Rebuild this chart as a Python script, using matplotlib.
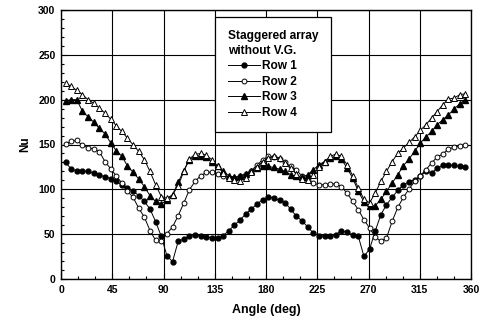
import numpy as np
import matplotlib
matplotlib.use("Agg")
import matplotlib.pyplot as plt
from matplotlib.ticker import MultipleLocator

plt.rcParams['font.family'] = ['Liberation Sans', 'DejaVu Sans']
plt.rcParams['font.weight'] = 'bold'

# angles of the measuring points (deg)
angle = np.linspace(4, 355, 72)

row1 = [130, 122.6, 120.7, 120.7, 120, 118, 116, 114, 112, 109, 105, 101, 98, 93, 86.5, 78, 64, 47.5,
        26, 19.3, 42, 44.6, 47.5, 49, 48.3, 46.4, 46, 45.3, 48.3, 54, 60, 66, 72.4, 78, 83.6,
        88.4, 91.4, 90.3, 87.6, 84.7, 78, 69.8, 65, 58, 51.3, 48.3, 48.3, 48.3, 49.4, 54, 52, 49, 47.5,
        25.2, 33.4, 53.5, 71.7, 82.8, 91, 98.8, 105, 108.5, 110.7, 114.4, 120, 118, 123.7, 126.7,
        126.7, 126.7, 125.5, 124.4]
row2 = [151, 153.5, 154.5, 149, 146.5, 145, 142, 131, 123, 115, 107, 98, 91, 79, 69, 54, 43, 42,
        50.5, 58, 70.6, 84.7, 99.6, 108.8, 115.2, 118.9, 118.9, 117.5, 115, 113, 112.5, 114.5, 117, 121, 127,
        133, 136.7, 136, 133.8, 130, 125.5, 121.8, 114.4, 110, 107, 105, 105, 106, 106, 102.6, 95.9, 86.5, 77.3,
        66, 56.8, 46.8, 42, 45.7, 64.2, 79.8, 91, 100.3, 108.8, 115.2, 121.8, 129.3, 136, 139.4,
        145, 147, 148.6, 150]
row3 = [199, 200, 200, 187, 181, 175, 168, 162, 152, 143, 137, 126, 119, 111.5, 103, 93, 86.5, 84,
        87.6, 94, 107.7, 121, 133, 136.7, 137.5, 136, 131, 126, 120, 115, 113.7, 114.4, 117.4, 121, 123.7,
        126, 125.5, 124.4, 122.6, 120, 116.3, 114.4, 113.3, 116.3, 121.8, 127.4, 131, 135, 136.7, 133.8,
        123.7, 112.6, 97.7,
        86, 81.7, 81.7, 89, 97.7, 107, 116.3, 126.3, 133.8, 142.3, 151.6, 158.3, 164.5, 172, 177.6,
        183.2, 189.5, 195.4, 200]
row4 = [218.5, 214.7, 210.3, 205.5, 200, 196, 190.6, 185, 178.4, 171, 164.5, 157, 149.7, 142.3, 133, 120, 105, 92,
        90, 94, 104, 120, 134, 139, 140, 138, 133, 126, 118, 113, 110, 109.5, 113, 119, 125,
        131, 135, 136.7, 135, 129.3, 123.7, 117, 111, 110, 116, 125, 131, 136.7, 139.3, 136.7, 127.4,
        115.2, 101.4,
        89, 85, 95.9, 108.8, 120, 131, 140, 146, 152.3, 158.3, 165.7, 172, 179.5, 186.8, 194.3,
        200.7, 201.8, 205.5, 206.6]

fig = plt.figure(figsize=(4.86, 3.25), dpi=100)
ax = fig.add_axes([61 / 486, 1 - 279 / 325, 410 / 486, 269 / 325])

ms = 3.5
ax.plot(angle, row1, '-o', color='black', lw=0.7, ms=ms, mfc='black', mec='black', label='Row 1', zorder=3)
ax.plot(angle, row2, '-o', color='black', lw=0.7, ms=ms, mfc='white', mec='black', mew=0.7, label='Row 2', zorder=3)
ax.plot(angle, row3, '-^', color='black', lw=0.7, ms=ms + 0.5, mfc='black', mec='black', label='Row 3', zorder=3)
ax.plot(angle, row4, '-^', color='black', lw=0.7, ms=ms + 0.5, mfc='white', mec='black', mew=0.7, label='Row 4', zorder=3)

ax.set_xlim(0, 360)
ax.set_ylim(0, 300)
ax.xaxis.set_major_locator(MultipleLocator(45))
ax.xaxis.set_minor_locator(MultipleLocator(15))
ax.yaxis.set_major_locator(MultipleLocator(50))
ax.yaxis.set_minor_locator(MultipleLocator(10))
ax.tick_params(which='both', direction='in', top=False, right=False, labelsize=7.5, width=0.8)
ax.tick_params(which='major', length=4, pad=4)
ax.tick_params(which='minor', length=2)
ax.grid(True, which='major', color='black', lw=0.8)
for s in ax.spines.values():
    s.set_linewidth(1.0)

ax.set_xlabel('Angle (deg)', fontsize=9, fontweight='bold', labelpad=7)
ax.set_ylabel('Nu', fontsize=8.5, fontweight='bold', labelpad=5)

leg = ax.legend(loc='upper left', bbox_to_anchor=(0.3756, 0.974), title='Staggered array\nwithout V.G.',
                fontsize=8.6, title_fontproperties={'weight': 'bold', 'size': 8.6},
                frameon=True, fancybox=False, edgecolor='black', framealpha=1,
                handlelength=2.7, handletextpad=0.15, labelspacing=0.3, borderpad=1.05,
                borderaxespad=0, alignment='left')
leg.get_title().set_linespacing(1.35)
leg.get_frame().set_linewidth(0.9)
leg.set_zorder(5)

fig.savefig('out.png', dpi=100)
